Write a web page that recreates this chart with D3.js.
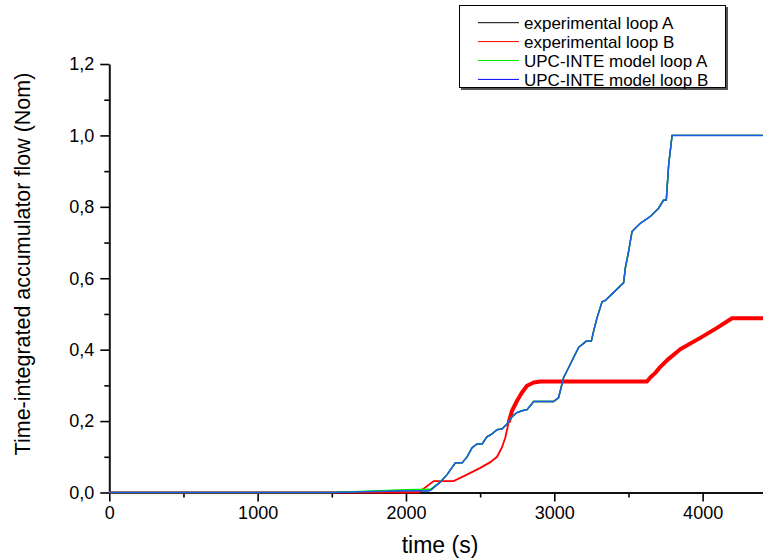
<!DOCTYPE html>
<html>
<head>
<meta charset="utf-8">
<script src="https://cdn.jsdelivr.net/npm/d3@7"></script>
<style>
  body { margin: 0; background: #fff; }
  svg { font-family: "Liberation Sans", Arial, sans-serif; }
</style>
</head>
<body>
<svg id="chart" width="763" height="560"></svg>
<script>
// time (s) / normalised flow
const modelTime = [0, 1500, 2000, 2150, 2164, 2231, 2277, 2333, 2378, 2411, 2445, 2479, 2513, 2546, 2580, 2614, 2647, 2681, 2715, 2749, 2782, 2816, 2838, 2861, 2996, 3029, 3063, 3097, 3130, 3164, 3216, 3250, 3265, 3288, 3322, 3344, 3467, 3479, 3501, 3524, 3580, 3647, 3703, 3737, 3755, 3771, 3794, 4500]
const modelLoopB = [0, 0, 0.005, 0.005, 0.006, 0.029, 0.050, 0.083, 0.083, 0.099, 0.125, 0.136, 0.136, 0.156, 0.164, 0.176, 0.178, 0.192, 0.212, 0.224, 0.229, 0.232, 0.243, 0.255, 0.255, 0.266, 0.322, 0.350, 0.378, 0.406, 0.424, 0.424, 0.452, 0.489, 0.534, 0.538, 0.587, 0.629, 0.675, 0.731, 0.754, 0.773, 0.796, 0.819, 0.819, 0.918, 1.0, 1.0]
const modelLoopA = [0, 0, 0.008, 0.009, 0.009, 0.030, 0.050, 0.083, 0.083, 0.099, 0.125, 0.136, 0.136, 0.156, 0.164, 0.176, 0.178, 0.192, 0.212, 0.224, 0.229, 0.232, 0.243, 0.255, 0.255, 0.266, 0.322, 0.350, 0.378, 0.406, 0.425, 0.425, 0.452, 0.489, 0.534, 0.538, 0.588, 0.629, 0.675, 0.731, 0.754, 0.773, 0.797, 0.820, 0.820, 0.918, 1.0, 1.0]
const expLoopA = [0, 0, 0.005, 0.005, 0.006, 0.029, 0.050, 0.083, 0.083, 0.099, 0.125, 0.136, 0.136, 0.156, 0.164, 0.176, 0.178, 0.192, 0.212, 0.224, 0.229, 0.232, 0.243, 0.255, 0.255, 0.266, 0.322, 0.350, 0.378, 0.406, 0.424, 0.424, 0.452, 0.489, 0.534, 0.538, 0.587, 0.629, 0.675, 0.731, 0.754, 0.773, 0.796, 0.819, 0.819, 0.918, 1.0, 1.0]

const expTimeB = [0, 2085, 2187, 2321, 2411, 2501, 2569, 2614, 2647, 2670, 2692, 2715, 2749, 2782, 2816, 2861, 2906, 3625, 3647, 3681, 3715, 3759, 3849, 3984, 4097, 4198, 4500]
const expLoopB = [0, 0, 0.032, 0.032, 0.050, 0.069, 0.085, 0.100, 0.126, 0.154, 0.196, 0.229, 0.257, 0.280, 0.299, 0.308, 0.311, 0.311, 0.322, 0.335, 0.352, 0.370, 0.401, 0.433, 0.461, 0.488, 0.488]

const legendNames = ["experimental loop A", "experimental loop B", "UPC-INTE model loop A", "UPC-INTE model loop B"]
const colors = ["#000000", "#ff0000", "#00ee00", "#0000ff"]

const xMajor = [0, 1000, 2000, 3000, 4000]
const yMajor = [0, 0.2, 0.4, 0.6, 0.8, 1.0, 1.2]

const svg = d3.select("#chart")

const x = d3.scaleLinear().domain([0, 4500]).range([109.3, 109.3 + 667.5])
const y = d3.scaleLinear().domain([0, 1.2]).range([492.5, 64])
const fmt = d => d3.format(".1f")(d).replace(".", ",")

// minor ticks first, major on top
svg.append("g")
    .attr("transform", `translate(0,${y(0)})`)
    .call(d3.axisBottom(x).tickValues(d3.range(500, 4500, 1000)).tickSize(5).tickFormat(""))
    .call(g => g.select(".domain").remove())
svg.append("g")
    .attr("transform", `translate(${x(0)},0)`)
    .call(d3.axisLeft(y).tickValues(d3.range(0.1, 1.2, 0.2)).tickSize(5).tickFormat(""))
    .call(g => g.select(".domain").remove())

const xAxis = svg.append("g")
    .attr("transform", `translate(0,${y(0)})`)
    .call(d3.axisBottom(x).tickValues(xMajor).tickFormat(d3.format("d")).tickSize(9).tickSizeOuter(0).tickPadding(5))
const yAxis = svg.append("g")
    .attr("transform", `translate(${x(0)},0)`)
    .call(d3.axisLeft(y).tickValues(yMajor).tickFormat(fmt).tickSize(9).tickSizeOuter(0).tickPadding(6))

svg.selectAll(".tick line").attr("stroke", "#000").attr("stroke-width", 1.6)
svg.selectAll(".domain").attr("stroke", "#111").attr("stroke-width", 2)
svg.selectAll(".tick text").attr("font-size", 18).attr("fill", "#000")
    .style("font-family", "'Liberation Sans', Arial, sans-serif")

svg.append("text")
    .attr("x", 440).attr("y", 553)
    .attr("text-anchor", "middle")
    .attr("font-size", 23)
    .text("time (s)")

svg.append("text")
    .attr("transform", `translate(30,264) rotate(-90)`)
    .attr("text-anchor", "middle")
    .attr("font-size", 21.5)
    .text("Time-integrated accumulator flow (Nom)")

const line = d3.line().x(d => x(d[0])).y(d => y(d[1]))
const zip = (ts, vs) => ts.map((t, i) => [t, vs[i]])

const plot = svg.append("g")
plot.append("path").datum(zip(modelTime, expLoopA))
    .attr("fill", "none").attr("stroke", colors[0]).attr("stroke-width", 1.4).attr("d", line)
plot.append("path").datum(zip(expTimeB, expLoopB))
    .attr("fill", "none").attr("stroke", colors[1]).attr("stroke-width", 1.8).attr("d", line)
// the noisy part of loop B reads as a thick band
plot.append("path").datum(zip(expTimeB, expLoopB).filter(d => d[0] >= 2680))
    .attr("fill", "none").attr("stroke", colors[1]).attr("stroke-width", 4)
    .attr("stroke-linejoin", "round").attr("d", line)
plot.append("path").datum(zip(modelTime, modelLoopA))
    .attr("fill", "none").attr("stroke", colors[2]).attr("stroke-width", 1.4).attr("d", line)
plot.append("path").datum(zip(modelTime, modelLoopB))
    .attr("fill", "none").attr("stroke", "#1f5ae8").attr("stroke-width", 1.5).attr("d", line)

// legend
const legend = svg.append("g")
legend.append("rect").attr("x", 461).attr("y", 7).attr("width", 267).attr("height", 83).attr("fill", "#555")
legend.append("rect").attr("x", 459.5).attr("y", 5.5).attr("width", 266).attr("height", 82)
    .attr("fill", "#fff").attr("stroke", "#000").attr("stroke-width", 1)
const rows = legend.selectAll("g.row").data(legendNames).join("g").attr("class", "row")
    .attr("transform", (d, i) => `translate(0,${22.7 + i * 18.9})`)
rows.append("line").attr("x1", 478).attr("x2", 519)
    .attr("stroke", (d, i) => colors[i]).attr("stroke-width", 1)
rows.append("text").attr("x", 524).attr("dy", "0.36em")
    .attr("font-size", 17).text(d => d)
</script>
</body>
</html>
